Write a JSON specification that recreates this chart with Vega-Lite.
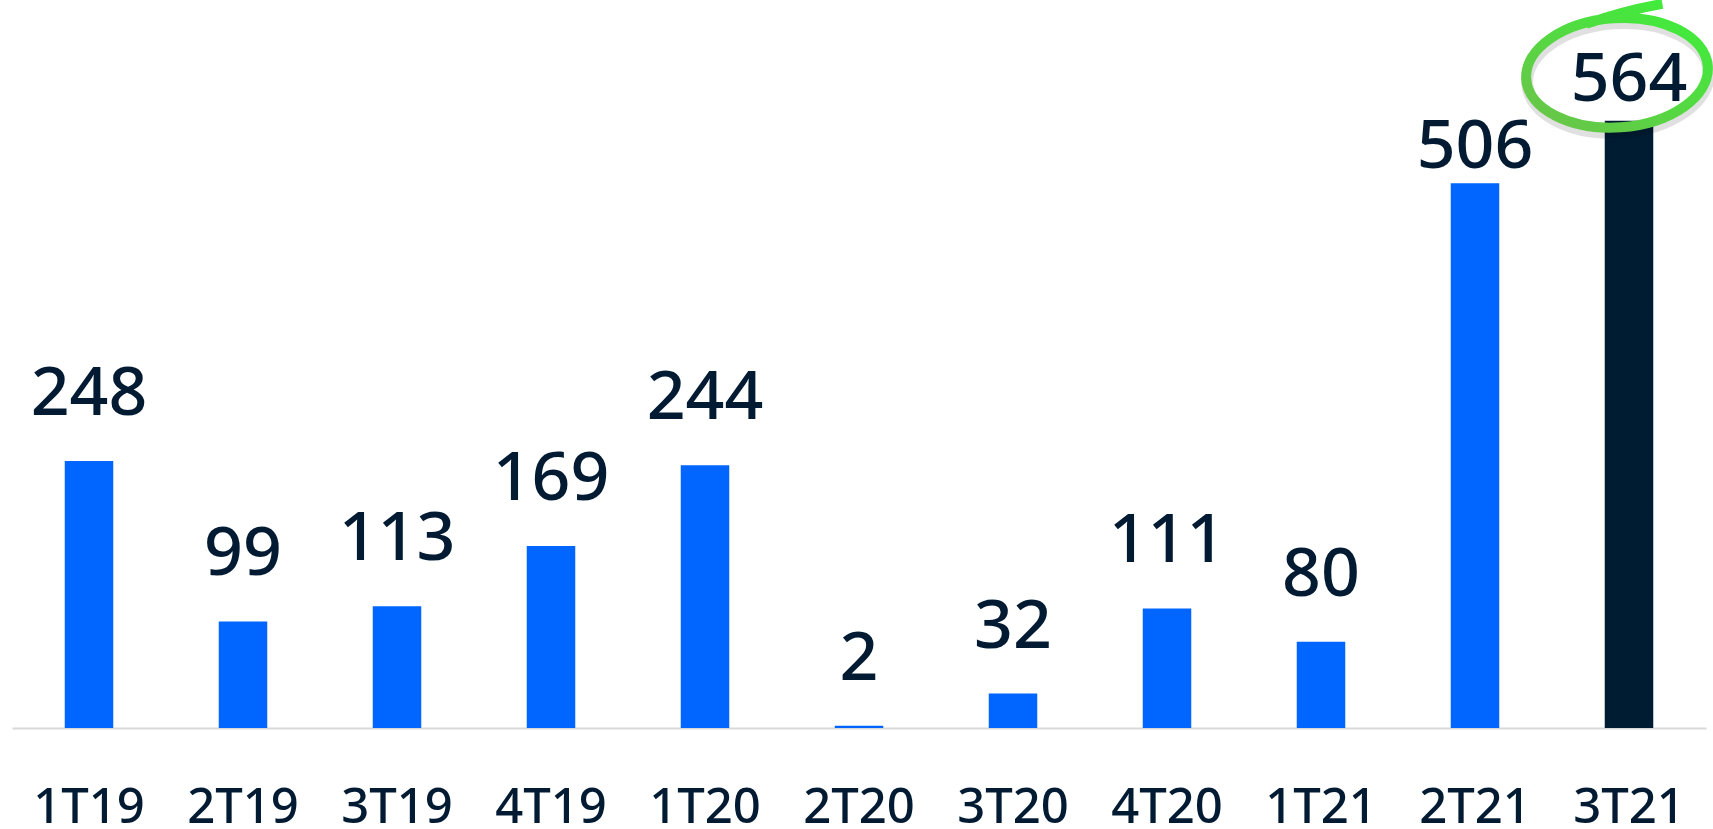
{
  "$schema": "https://vega.github.io/schema/vega-lite/v6.json",
  "autosize": "none",
  "width": 1694,
  "height": 728,
  "padding": {"left": 12, "top": 0, "right": 7, "bottom": 101},
  "background": "white",
  "config": {"view": {"stroke": null}},
  "data": {
    "values": [
      {"Trimestre": "1T19", "Valor": 248},
      {"Trimestre": "2T19", "Valor": 99},
      {"Trimestre": "3T19", "Valor": 113},
      {"Trimestre": "4T19", "Valor": 169},
      {"Trimestre": "1T20", "Valor": 244},
      {"Trimestre": "2T20", "Valor": 2},
      {"Trimestre": "3T20", "Valor": 32},
      {"Trimestre": "4T20", "Valor": 111},
      {"Trimestre": "1T21", "Valor": 80},
      {"Trimestre": "2T21", "Valor": 506},
      {"Trimestre": "3T21", "Valor": 564}
    ]
  },
  "encoding": {
    "x": {
      "field": "Trimestre",
      "type": "nominal",
      "sort": null,
      "scale": {"paddingInner": 0.685, "paddingOuter": 0.3425},
      "axis": {
        "title": null,
        "labelAngle": 0,
        "ticks": false,
        "tickSize": 0,
        "labelPadding": 94,
        "labelBaseline": "alphabetic",
        "labelFont": "Noto Sans",
        "labelFontSize": 49,
        "labelFontWeight": 500,
        "labelColor": "#021b33",
        "domainColor": "#d9d9d9",
        "domainWidth": 2,
        "grid": false
      }
    },
    "y": {
      "field": "Valor",
      "type": "quantitative",
      "scale": {"domain": [0, 676.2], "nice": false, "zero": true},
      "axis": null
    }
  },
  "layer": [
    {
      "mark": {"type": "bar"},
      "encoding": {
        "color": {
          "condition": {"test": "datum.Trimestre === '3T21'", "value": "#001c33"},
          "value": "#0066ff"
        }
      }
    },
    {
      "transform": [{"filter": "datum.Trimestre !== '2T21' && datum.Trimestre !== '3T21'"}],
      "mark": {
        "type": "text",
        "baseline": "alphabetic",
        "align": "center",
        "dy": -46,
        "font": "Noto Sans",
        "fontSize": 68,
        "fontWeight": 500,
        "color": "#021b33"
      },
      "encoding": {"text": {"field": "Valor", "type": "quantitative"}}
    },
    {
      "transform": [{"filter": "datum.Trimestre === '2T21'"}],
      "mark": {
        "type": "text",
        "baseline": "alphabetic",
        "align": "center",
        "dy": -15,
        "font": "Noto Sans",
        "fontSize": 68,
        "fontWeight": 500,
        "color": "#021b33"
      },
      "encoding": {"text": {"field": "Valor", "type": "quantitative"}}
    },
    {
      "transform": [{"filter": "datum.Trimestre === '3T21'"}],
      "mark": {
        "type": "point",
        "shape": "M -1 0 A 1 0.6 0 1 1 1 0 A 1 0.6 0 1 1 -1 0 Z",
        "size": 33124,
        "filled": false,
        "strokeWidth": 12,
        "opacity": 1,
        "strokeOpacity": 0.12,
        "angle": -4,
        "xOffset": -11,
        "yOffset": -43,
        "stroke": "#000000"
      },
      "encoding": {}
    },
    {
      "transform": [{"filter": "datum.Trimestre === '3T21'"}],
      "mark": {
        "type": "point",
        "shape": "M -1 0 A 1 0.6 0 1 1 1 0 A 1 0.6 0 1 1 -1 0 Z M -0.3 -0.56 Q 0.15 -0.68 0.55 -0.72",
        "size": 33124,
        "filled": false,
        "strokeWidth": 10,
        "opacity": 1,
        "angle": -4,
        "xOffset": -12,
        "yOffset": -48,
        "stroke": {
          "gradient": "linear",
          "x1": 0, "y1": 1, "x2": 1, "y2": 0,
          "stops": [
            {"offset": 0, "color": "#6cc24a"},
            {"offset": 1, "color": "#3cf03a"}
          ]
        }
      },
      "encoding": {}
    },
    {
      "transform": [{"filter": "datum.Trimestre === '3T21'"}],
      "mark": {
        "type": "text",
        "baseline": "alphabetic",
        "align": "center",
        "dy": -20,
        "font": "Noto Sans",
        "fontSize": 68,
        "fontWeight": 500,
        "color": "#021b33"
      },
      "encoding": {"text": {"field": "Valor", "type": "quantitative"}}
    }
  ]
}
